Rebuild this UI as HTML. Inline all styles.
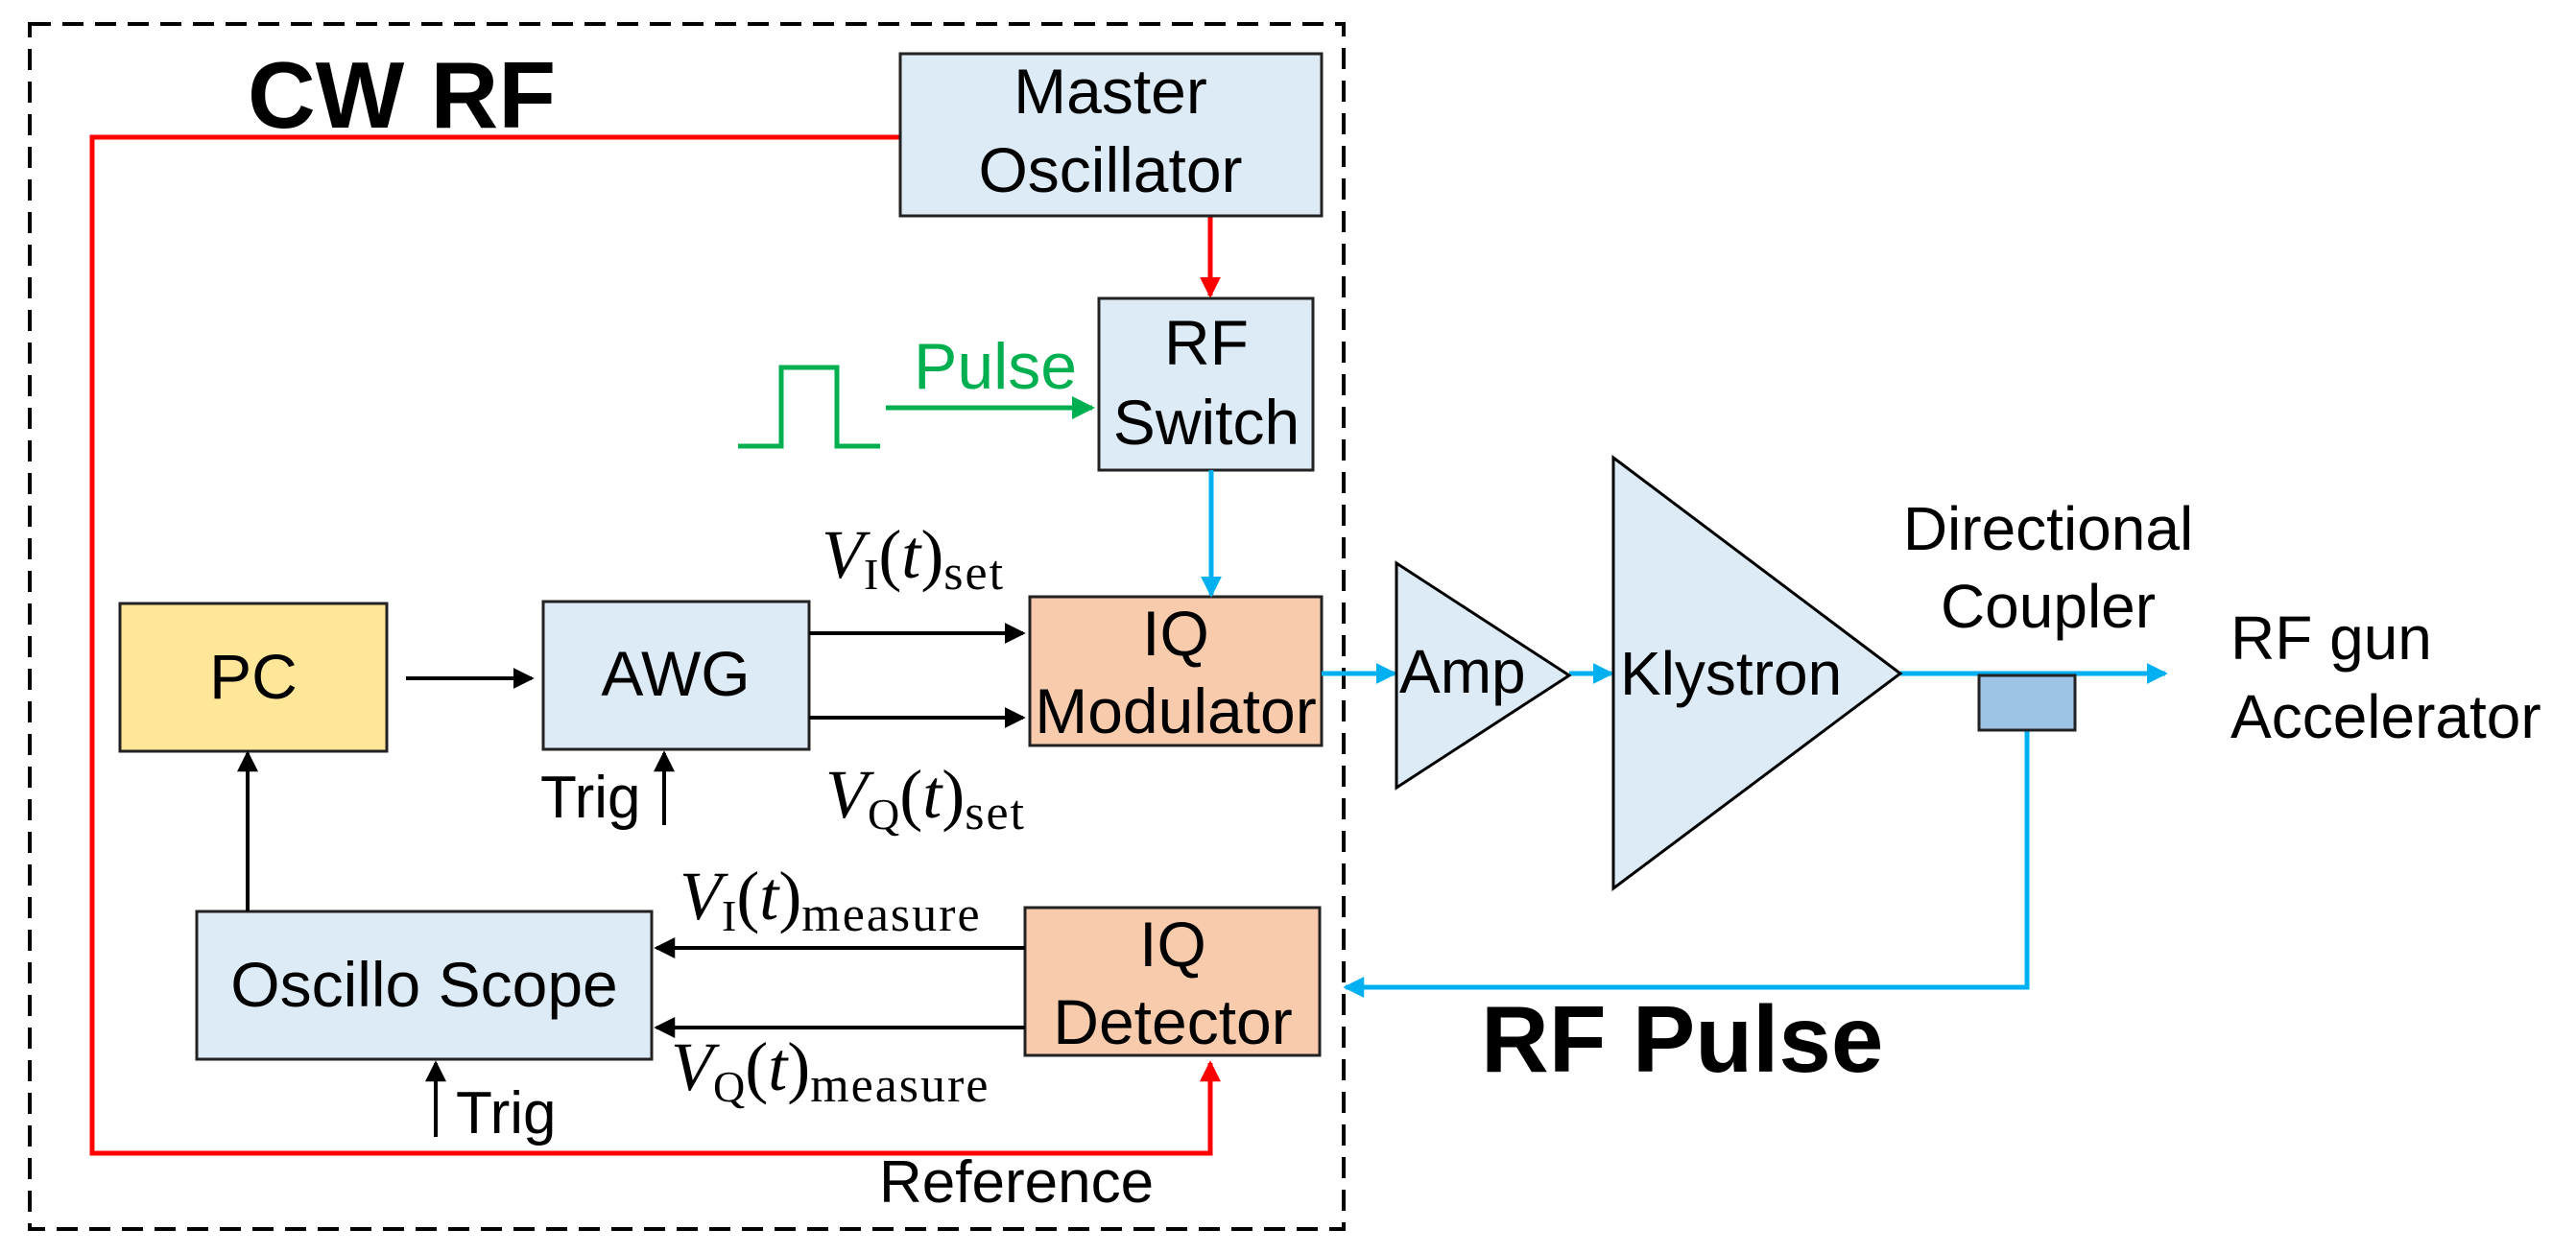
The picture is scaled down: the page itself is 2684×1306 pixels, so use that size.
<!DOCTYPE html>
<html><head><meta charset="utf-8"><style>
html,body{margin:0;padding:0;background:#fff;}
svg{display:block;}
.s{font-family:"Liberation Sans",sans-serif;}
.m{font-family:"Liberation Serif",serif;}
</style></head><body>
<svg width="2684" height="1306" viewBox="0 0 2684 1306" xmlns="http://www.w3.org/2000/svg">
<defs>
<marker id="ar" viewBox="0 0 8 8" refX="7" refY="4" markerWidth="22" markerHeight="22" orient="auto" markerUnits="userSpaceOnUse"><path d="M0,0 L8,4 L0,8z" fill="#ff0000"/></marker>
<marker id="ab" viewBox="0 0 8 8" refX="7" refY="4" markerWidth="22" markerHeight="22" orient="auto" markerUnits="userSpaceOnUse"><path d="M0,0 L8,4 L0,8z" fill="#00b0f0"/></marker>
<marker id="ag" viewBox="0 0 8 8" refX="7" refY="4" markerWidth="24" markerHeight="24" orient="auto" markerUnits="userSpaceOnUse"><path d="M0,0 L8,4 L0,8z" fill="#00b050"/></marker>
<marker id="abk" viewBox="0 0 8 8" refX="7" refY="4" markerWidth="22" markerHeight="22" orient="auto" markerUnits="userSpaceOnUse"><path d="M0,0 L8,4 L0,8z" fill="#000"/></marker>
</defs>

<rect x="31" y="25" width="1369" height="1256" fill="none" stroke="#000" stroke-width="4" stroke-dasharray="22,12"/>

<text x="258" y="133" class="s" font-size="98" font-weight="bold">CW RF</text>

<polyline points="938,143 96,143 96,1202 1261,1202 1261,1108" fill="none" stroke="#ff0000" stroke-width="5" marker-end="url(#ar)"/>
<line x1="1261" y1="225" x2="1261" y2="308" stroke="#ff0000" stroke-width="5" marker-end="url(#ar)"/>

<g stroke="#222" stroke-width="3">
<rect x="938" y="56" width="439" height="169" fill="#ddebf7"/>
<rect x="1145" y="311" width="223" height="179" fill="#ddebf7"/>
<rect x="1073" y="622" width="304" height="155" fill="#f8cbad"/>
<rect x="566" y="627" width="277" height="154" fill="#ddebf7"/>
<rect x="125" y="629" width="278" height="154" fill="#ffe699"/>
<rect x="205" y="950" width="474" height="154" fill="#ddebf7"/>
<rect x="1068" y="946" width="307" height="154" fill="#f8cbad"/>
</g>
<g class="s" font-size="66" text-anchor="middle" fill="#000">
<text x="1157" y="118">Master</text>
<text x="1157" y="200">Oscillator</text>
<text x="1257" y="380">RF</text>
<text x="1257" y="463">Switch</text>
<text x="1225" y="683">IQ</text>
<text x="1225" y="764">Modulator</text>
<text x="704" y="725">AWG</text>
<text x="264" y="728">PC</text>
<text x="442" y="1049">Oscillo Scope</text>
<text x="1222" y="1007">IQ</text>
<text x="1222" y="1088">Detector</text>
</g>

<polyline points="769,465 814,465 814,383 872,383 872,465 917,465" fill="none" stroke="#00b050" stroke-width="5"/>
<line x1="923" y1="425" x2="1138" y2="425" stroke="#00b050" stroke-width="5" marker-end="url(#ag)"/>
<text x="952" y="405" class="s" font-size="68" fill="#00b050">Pulse</text>

<line x1="1262" y1="490" x2="1262" y2="620" stroke="#00b0f0" stroke-width="5" marker-end="url(#ab)"/>

<g stroke="#000" stroke-width="4" fill="none">
<line x1="423" y1="707" x2="554" y2="707" marker-end="url(#abk)"/>
<line x1="843" y1="660" x2="1066" y2="660" marker-end="url(#abk)"/>
<line x1="843" y1="748" x2="1066" y2="748" marker-end="url(#abk)"/>
<line x1="692" y1="860" x2="692" y2="785" marker-end="url(#abk)"/>
<line x1="258" y1="950" x2="258" y2="785" marker-end="url(#abk)"/>
<line x1="1068" y1="988" x2="684" y2="988" marker-end="url(#abk)"/>
<line x1="1068" y1="1071" x2="684" y2="1071" marker-end="url(#abk)"/>
<line x1="454" y1="1185" x2="454" y2="1108" marker-end="url(#abk)"/>
</g>
<g class="s" font-size="62">
<text x="563" y="852">Trig</text>
<text x="475" y="1181">Trig</text>
<text x="916" y="1253">Reference</text>
</g>

<g class="m" font-size="72">
<text x="856" y="602"><tspan font-style="italic">V</tspan><tspan font-size="46" dy="12">I</tspan><tspan dy="-12">(</tspan><tspan font-style="italic">t</tspan>)<tspan font-size="52" dy="12" letter-spacing="2">set</tspan></text>
<text x="860" y="852"><tspan font-style="italic">V</tspan><tspan font-size="46" dy="12">Q</tspan><tspan dy="-12">(</tspan><tspan font-style="italic">t</tspan>)<tspan font-size="52" dy="12" letter-spacing="2">set</tspan></text>
<text x="708" y="958"><tspan font-style="italic">V</tspan><tspan font-size="46" dy="12">I</tspan><tspan dy="-12">(</tspan><tspan font-style="italic">t</tspan>)<tspan font-size="52" dy="12" letter-spacing="2">measure</tspan></text>
<text x="699" y="1136"><tspan font-style="italic">V</tspan><tspan font-size="46" dy="12">Q</tspan><tspan dy="-12">(</tspan><tspan font-style="italic">t</tspan>)<tspan font-size="52" dy="12" letter-spacing="2">measure</tspan></text>
</g>

<g stroke="#00b0f0" stroke-width="5" fill="none">
<line x1="1377" y1="702" x2="1453" y2="702" marker-end="url(#ab)"/>
<line x1="1635" y1="702" x2="1679" y2="702" marker-end="url(#ab)"/>
<line x1="1980" y1="702" x2="2256" y2="702" marker-end="url(#ab)"/>
<polyline points="2112,761 2112,1029 1402,1029" marker-end="url(#ab)"/>
</g>
<polygon points="1455,587 1635,704 1455,821" fill="#ddebf7" stroke="#000" stroke-width="3"/>
<polygon points="1681,477 1980,702 1681,926" fill="#ddebf7" stroke="#000" stroke-width="3"/>
<rect x="2062" y="704" width="100" height="57" fill="#9dc3e6" stroke="#222" stroke-width="3"/>
<g class="s" font-size="64">
<text x="1458" y="722">Amp</text>
<text x="1688" y="724">Klystron</text>
<text x="2134" y="573" text-anchor="middle">Directional</text>
<text x="2134" y="654" text-anchor="middle">Coupler</text>
<text x="2324" y="687">RF gun</text>
<text x="2324" y="769">Accelerator</text>
</g>
<text x="1543" y="1117" class="s" font-size="98" font-weight="bold">RF Pulse</text>
</svg>
</body></html>
